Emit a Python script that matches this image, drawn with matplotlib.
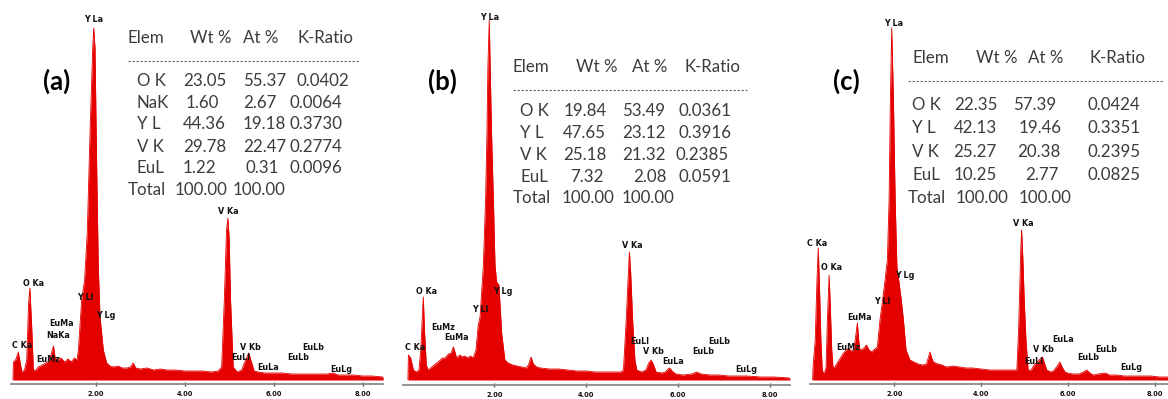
import matplotlib
matplotlib.use("Agg")
import matplotlib.pyplot as plt
from matplotlib.transforms import Affine2D
from matplotlib.lines import Line2D

# ---------------------------------------------------------------- spectra
# energy (keV) and counts (arbitrary units) for the three EDS spectra
energy_a = [0.14, 0.15, 0.20, 0.26, 0.30, 0.34, 0.40, 0.45, 0.49, 0.52, 0.56, 0.60,
            0.66, 0.71, 0.80, 0.88, 0.95, 1.00, 1.05, 1.09, 1.15, 1.22, 1.30, 1.38,
            1.45, 1.52, 1.58, 1.61, 1.685, 1.75, 1.81, 1.872, 1.933, 1.955, 1.984,
            2.022, 2.058, 2.097, 2.171, 2.247, 2.32, 2.40, 2.50, 2.60, 2.70, 2.78,
            2.84, 2.90, 3.00, 3.15, 3.30, 3.45, 3.60, 3.80, 4.00, 4.20, 4.40, 4.60,
            4.75, 4.83, 4.89, 4.94, 4.97, 5.00, 5.03, 5.09, 5.18, 5.28, 5.35, 5.44,
            5.50, 5.56, 5.65, 5.80, 6.00, 6.20, 6.40, 6.60, 6.80, 7.00, 7.20, 7.33,
            7.45, 7.60, 7.80, 8.00, 8.20, 8.46]
counts_a = [0, 18, 20, 28, 18, 8, 10, 20, 75, 92, 55, 10,
            10, 13, 15, 17, 19, 26, 34, 22, 20, 22, 18, 21,
            18, 22, 20, 30, 80, 100, 147, 247, 332, 352, 332,
            213, 113, 63, 30, 17, 14, 13, 14, 12, 12, 13,
            17, 12, 11, 12, 10, 11, 10, 10, 9, 9, 9, 8,
            9, 13, 80, 150, 162, 140, 80, 13, 8, 10, 18, 27,
            18, 9, 8, 7, 7, 7, 6, 6, 6, 6, 6, 7,
            5, 5, 5, 4, 4, 3]

energy_b = [0.12, 0.13, 0.18, 0.24, 0.30, 0.36, 0.40, 0.43, 0.455, 0.48, 0.52, 0.56,
            0.64, 0.72, 0.80, 0.87, 0.93, 1.00, 1.06, 1.11, 1.15, 1.18, 1.25, 1.30,
            1.36, 1.42, 1.48, 1.54, 1.60, 1.65, 1.69, 1.76, 1.81, 1.84, 1.86, 1.89,
            1.91, 1.94, 1.98, 2.015, 2.05, 2.10, 2.16, 2.23, 2.30, 2.40, 2.50, 2.60,
            2.70, 2.75, 2.80, 2.85, 2.92, 3.00, 3.20, 3.40, 3.60, 3.80, 4.00, 4.20,
            4.40, 4.60, 4.75, 4.81, 4.87, 4.91, 4.94, 4.97, 5.01, 5.06, 5.10, 5.20,
            5.30, 5.36, 5.41, 5.46, 5.52, 5.65, 5.72, 5.78, 5.82, 5.87, 5.95, 6.10,
            6.30, 6.40, 6.50, 6.70, 6.90, 7.10, 7.30, 7.50, 7.80, 8.10, 8.435]
counts_b = [0, 25, 22, 10, 8, 10, 30, 60, 83, 50, 15, 10,
            13, 16, 19, 22, 22, 26, 27, 33, 27, 22, 25, 23,
            24, 22, 24, 22, 30, 55, 63, 113, 180, 247, 313, 360,
            313, 247, 180, 115, 98, 95, 47, 20, 17, 15, 14, 13,
            12, 16, 23, 16, 13, 12, 11, 11, 10, 9, 9, 8,
            8, 8, 8, 10, 60, 100, 128, 105, 60, 20, 10, 8,
            10, 17, 20, 16, 8, 7, 8, 11, 12, 9, 6, 5,
            6, 8, 6, 5, 5, 4, 4, 4, 3, 3, 2]

energy_c = [0.12, 0.13, 0.18, 0.22, 0.25, 0.28, 0.31, 0.34, 0.36, 0.40, 0.43, 0.46,
            0.50, 0.53, 0.56, 0.59, 0.63, 0.70, 0.76, 0.83, 0.90, 0.95, 1.00, 1.06,
            1.10, 1.15, 1.18, 1.21, 1.28, 1.36, 1.42, 1.48, 1.55, 1.61, 1.67, 1.76,
            1.84, 1.88, 1.91, 1.94, 1.98, 2.02, 2.06, 2.11, 2.16, 2.21, 2.27, 2.36,
            2.45, 2.55, 2.65, 2.74, 2.78, 2.82, 2.86, 2.90, 3.00, 3.10, 3.20, 3.35,
            3.51, 3.65, 3.80, 4.00, 4.20, 4.40, 4.60, 4.75, 4.82, 4.86, 4.88, 4.91,
            4.93, 4.96, 4.99, 5.03, 5.08, 5.15, 5.22, 5.27, 5.33, 5.41, 5.47, 5.51,
            5.60, 5.66, 5.75, 5.81, 5.86, 5.93, 5.99, 6.10, 6.25, 6.35, 6.43, 6.50,
            6.58, 6.70, 6.85, 6.95, 7.10, 7.30, 7.60, 7.90, 8.10, 8.30]
counts_c = [0, 13, 40, 100, 132, 90, 40, 12, 7, 8, 13, 60,
            105, 70, 30, 12, 13, 18, 22, 27, 30, 32, 29, 30,
            40, 57, 40, 30, 31, 35, 30, 28, 31, 33, 60, 90,
            120, 180, 280, 352, 280, 180, 113, 97, 80, 60, 30, 20,
            18, 16, 15, 16, 22, 28, 22, 18, 16, 15, 13, 14,
            13, 12, 12, 11, 10, 10, 10, 10, 10, 50, 80, 130,
            150, 120, 80, 40, 10, 10, 15, 17, 20, 23, 15, 10,
            8, 9, 14, 18, 13, 8, 7, 6, 6, 8, 10, 7,
            5, 6, 7, 5, 5, 4, 4, 4, 3, 3]

tick_values = [2, 4, 6, 8]
tick_labels = ["2.00", "4.00", "6.00", "8.00"]

# ---------------------------------------------------------------- quantification tables
table_header = ["Elem", "Wt %", "At %", "K-Ratio"]

elements_a = ["O K", "NaK", "Y L", "V K", "EuL"]
wt_a = [23.05, 1.60, 44.36, 29.78, 1.22]
at_a = [55.37, 2.67, 19.18, 22.47, 0.31]
kratio_a = [0.0402, 0.0064, 0.3730, 0.2774, 0.0096]
total_a = [100.00, 100.00]

elements_b = ["O K", "Y L", "V K", "EuL"]
wt_b = [19.84, 47.65, 25.18, 7.32]
at_b = [53.49, 23.12, 21.32, 2.08]
kratio_b = [0.0361, 0.3916, 0.2385, 0.0591]
total_b = [100.00, 100.00]

elements_c = ["O K", "Y L", "V K", "EuL"]
wt_c = [22.35, 42.13, 25.27, 10.25]
at_c = [57.39, 19.46, 20.38, 2.77]
kratio_c = [0.0424, 0.3351, 0.2395, 0.0825]
total_c = [100.00, 100.00]

# ---------------------------------------------------------------- peak identification labels
peaks_a = [("Y La", 1.946, 360), ("V Ka", 4.97, 168), ("O Ka", 0.60, 97),
           ("Y Ll", 1.76, 83), ("Y Lg", 2.23, 65), ("EuMa", 1.236, 57),
           ("NaKa", 1.16, 45), ("C Ka", 0.337, 35), ("EuMz", 0.935, 21),
           ("V Kb", 5.47, 32), ("EuLl", 5.26, 23), ("EuLa", 5.88, 12),
           ("EuLb", 6.55, 23), ("EuLb", 6.89, 32), ("EuLg", 7.51, 11)]
peaks_b = [("Y La", 1.906, 362), ("V Ka", 5.00, 134), ("O Ka", 0.528, 89),
           ("Y Lg", 2.18, 89), ("Y Ll", 1.69, 71), ("EuMz", 0.89, 52),
           ("EuMa", 1.18, 42), ("C Ka", 0.274, 32), ("EuLl", 5.16, 39),
           ("V Kb", 5.46, 29), ("EuLa", 5.90, 19), ("EuLb", 6.54, 29),
           ("EuLb", 6.90, 39), ("EuLg", 7.49, 10)]
peaks_c = [("Y La", 1.977, 357), ("V Ka", 4.97, 156), ("C Ka", 0.214, 137),
           ("O Ka", 0.559, 112), ("Y Lg", 2.23, 104), ("Y Ll", 1.72, 78),
           ("EuMa", 1.21, 63), ("EuMz", 0.94, 33), ("EuLa", 5.875, 41),
           ("V Kb", 5.43, 31), ("EuLb", 6.87, 31), ("EuLl", 5.22, 18),
           ("EuLb", 6.46, 22), ("EuLg", 7.46, 12)]

# ---------------------------------------------------------------- figure
W, H = 1168, 399
fig = plt.figure(figsize=(W / 100, H / 100), dpi=100)
px = Affine2D().scale(1 / W, -1 / H).translate(0, 1) + fig.transFigure

RED = "#e50000"
TXT = "#3c3c3c"
TFONT = dict(family="Lato", size=12.2, color=TXT, va="baseline", ha="left")
FILL_BOTTOM = 380

panels = [
    dict(e=energy_a, c=counts_a, peaks=peaks_a, x0=11, x1=383, axis=384,
         xlim=(0.0966, 8.456), tag="(a)", tag_xy=(56.7, 81.7),
         elems=elements_a, wt=wt_a, at=at_a, kr=kratio_a, tot=total_a,
         head_x=[127.7, 190, 243, 297.7], head_y=43.3, rule=(127.7, 359, 60.7),
         el_x=136.7, total_x=127.7,
         wt_x=[182.7, 185.7, 182.7, 182.7, 183.0, 174.3],
         at_x=[242.7, 243.0, 242.7, 242.7, 245.0, 232.7],
         kr_x=[296.7, 289, 289, 289, 289],
         row_y=[86, 107.7, 129.3, 151.7, 173, 195]),
    dict(e=energy_b, c=counts_b, peaks=peaks_b, x0=403, x1=790, axis=385,
         xlim=(0.013, 8.435), tag="(b)", tag_xy=(442.5, 81),
         elems=elements_b, wt=wt_b, at=at_b, kr=kratio_b, tot=total_b,
         head_x=[512.7, 576, 632.3, 685], head_y=71.7, rule=(512.7, 746.7, 90),
         el_x=520, total_x=512.7,
         wt_x=[563.3, 563, 563, 570, 561.7],
         at_x=[622.3, 622.3, 622.3, 632.7, 621.7],
         kr_x=[678.3, 678.3, 676, 678.3],
         row_y=[116, 137.7, 160, 181.7, 203.3]),
    dict(e=energy_c, c=counts_c, peaks=peaks_c, x0=810, x1=1168, axis=384,
         xlim=(0.06, 8.299), tag="(c)", tag_xy=(846, 81.7),
         elems=elements_c, wt=wt_c, at=at_c, kr=kratio_c, tot=total_c,
         head_x=[912.3, 975.7, 1028.3, 1089.3], head_y=63.3, rule=(907.7, 1163.3, 81),
         el_x=912.3, total_x=907.7,
         wt_x=[954, 954, 952.7, 954, 956],
         at_x=[1013.3, 1018.3, 1017.3, 1025, 1018.3],
         kr_x=[1087.3, 1087.3, 1087.3, 1087.3],
         row_y=[110, 133.3, 156.7, 180, 203.3]),
]

for p in panels:
    ax = fig.add_axes([p["x0"] / W, (H - FILL_BOTTOM) / H,
                       (p["x1"] - p["x0"]) / W, FILL_BOTTOM / H])
    ax.set_xlim(*p["xlim"])
    ax.set_ylim(0, FILL_BOTTOM)
    ax.patch.set_alpha(0)

    ax.fill_between(p["e"], p["c"], 0, color=RED, lw=0)
    ax.plot(p["e"], p["c"], color=RED, lw=0.6)

    for name, xe, yc in p["peaks"]:
        ax.text(xe, yc, name, fontsize=5.8, fontweight="bold", family="DejaVu Sans",
                ha="center", va="center", color="#111111")

    for side in ("top", "left", "right"):
        ax.spines[side].set_visible(False)
    ax.spines["bottom"].set_position(("outward", (p["axis"] - FILL_BOTTOM) * 0.72))
    ax.spines["bottom"].set_color("#8a8a8a")
    ax.spines["bottom"].set_linewidth(1.3)
    ax.set_yticks([])
    ax.set_xticks(tick_values)
    ax.set_xticklabels(tick_labels, fontsize=4.8, fontweight="bold", family="DejaVu Sans")
    ax.tick_params(axis="x", direction="inout", length=2.5, width=1, color="#555555",
                   pad=3.5, labelcolor="#111111")

    # panel tag
    fig.text(*p["tag_xy"], p["tag"], transform=px, family="Lato", fontweight="bold",
             size=18.5, ha="center", va="center", color="black")

    # table header and dashed rule
    for name, x in zip(table_header, p["head_x"]):
        fig.text(x, p["head_y"], name, transform=px, **TFONT)
    rx0, rx1, ry = p["rule"]
    fig.add_artist(Line2D([rx0, rx1], [ry, ry], transform=px, color="#6a6a6a",
                          lw=0.8, linestyle=(0, (2.2, 1.4))))

    # table body
    n = len(p["elems"])
    for i in range(n):
        y = p["row_y"][i]
        fig.text(p["el_x"], y, p["elems"][i], transform=px, **TFONT)
        fig.text(p["wt_x"][i], y, f"{p['wt'][i]:.2f}", transform=px, **TFONT)
        fig.text(p["at_x"][i], y, f"{p['at'][i]:.2f}", transform=px, **TFONT)
        fig.text(p["kr_x"][i], y, f"{p['kr'][i]:.4f}", transform=px, **TFONT)
    y = p["row_y"][n]
    fig.text(p["total_x"], y, "Total", transform=px, **TFONT)
    fig.text(p["wt_x"][n], y, f"{p['tot'][0]:.2f}", transform=px, **TFONT)
    fig.text(p["at_x"][n], y, f"{p['tot'][1]:.2f}", transform=px, **TFONT)

fig.savefig("out.png", dpi=100)
